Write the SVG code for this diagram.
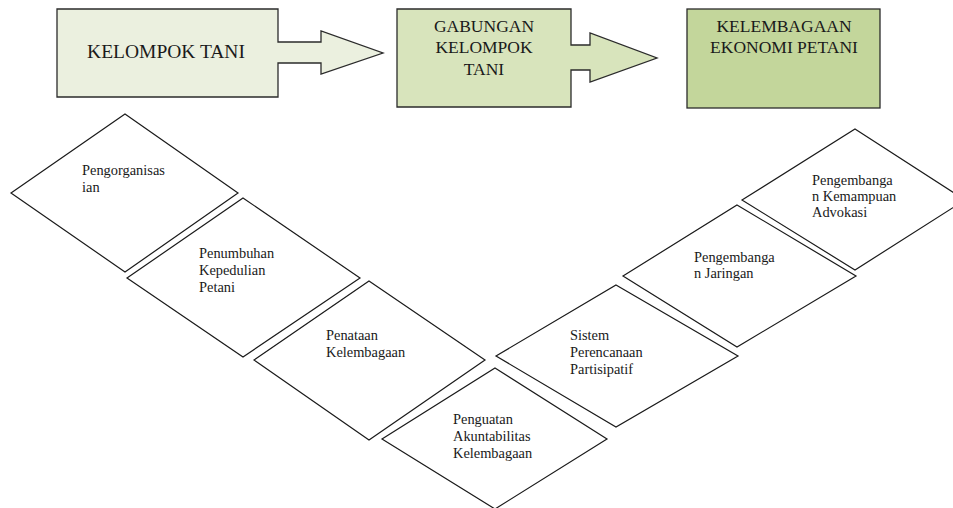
<svg xmlns="http://www.w3.org/2000/svg" width="953" height="508" viewBox="0 0 953 508">
<style>
.box{stroke:#2b2b2b;stroke-width:1.3}
.dia{fill:#fff;stroke:#1a1a1a;stroke-width:1.2}
.ht{font-family:'Liberation Serif','DejaVu Serif',serif;fill:#1a1a1a;font-size:17.5px;text-anchor:middle}
.dt{font-family:'Liberation Serif','DejaVu Serif',serif;fill:#1a1a1a;font-size:14.4px}
</style>
<rect width="953" height="508" fill="#fff"/>
<g id="kelompok-tani">
<polygon class="box" fill="#ebf0df" points="57,9 278,9 278,42 321,42 321,31 383,53 321,74 321,63 278,63 278,97 57,97"/>
<text class="ht" x="166" y="58" style="font-size:19.5px">KELOMPOK TANI</text>
</g>
<g id="gabungan">
<polygon class="box" fill="#d8e4bc" points="397,9 571,9 571,45 590,45 590,33 657,58 590,82 590,70 571,70 571,107 397,107"/>
<text class="ht" x="484" y="32">GABUNGAN</text>
<text class="ht" x="484" y="53">KELOMPOK</text>
<text class="ht" x="484" y="75">TANI</text>
</g>
<g id="kelembagaan-ekonomi">
<rect class="box" fill="#c3d69b" x="687" y="9" width="193" height="99"/>
<text class="ht" x="784" y="32">KELEMBAGAAN</text>
<text class="ht" x="784" y="53">EKONOMI PETANI</text>
</g>
<g id="connectors"></g>
<g id="d1">
<polygon class="dia" points="125,114 238,193 125,272 11,193"/>
<text class="dt" x="82" y="175">Pengorganisas</text>
<text class="dt" x="82" y="192">ian</text>
</g>
<g id="d2">
<polygon class="dia" points="243,198 360,278 243,357 127,278"/>
<text class="dt" x="199" y="258">Penumbuhan</text>
<text class="dt" x="199" y="275">Kepedulian</text>
<text class="dt" x="199" y="292">Petani</text>
</g>
<g id="d3">
<polygon class="dia" points="369,281 485,360 369,440 254,360"/>
<text class="dt" x="326" y="340">Penataan</text>
<text class="dt" x="326" y="357">Kelembagaan</text>
</g>
<g id="d4">
<polygon class="dia" points="495,368 607,439 495,509 382,439"/>
<text class="dt" x="453" y="424">Penguatan</text>
<text class="dt" x="453" y="441">Akuntabilitas</text>
<text class="dt" x="453" y="458">Kelembagaan</text>
</g>
<g id="d5">
<polygon class="dia" points="616,285 738,356 616,427 496,356"/>
<text class="dt" x="570" y="340">Sistem</text>
<text class="dt" x="570" y="357">Perencanaan</text>
<text class="dt" x="570" y="374">Partisipatif</text>
</g>
<g id="d6">
<polygon class="dia" points="737,205 856,276 737,347 623,276"/>
<text class="dt" x="694" y="262">Pengembanga</text>
<text class="dt" x="694" y="278">n Jaringan</text>
</g>
<g id="d7">
<polygon class="dia" points="855,129 965,200 855,270 742,200"/>
<text class="dt" x="812" y="185">Pengembanga</text>
<text class="dt" x="812" y="201">n Kemampuan</text>
<text class="dt" x="812" y="217">Advokasi</text>
</g>
</svg>
